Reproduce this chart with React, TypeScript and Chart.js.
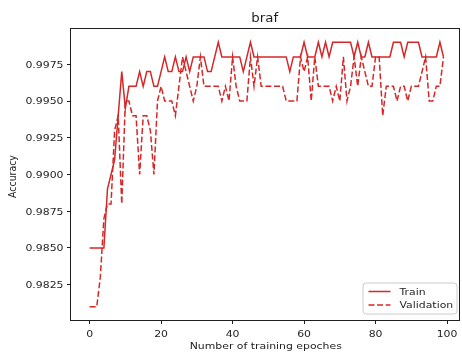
import React, { useEffect, useRef } from "react";
import { Chart, registerables } from "chart.js";

Chart.register(...registerables);

// ---- data ----
const epochs: number[] = Array.from({ length: 100 }, (_, i) => i);

const trainAcc: number[] = [
  0.985, 0.985, 0.985, 0.985, 0.985, 0.989, 0.990, 0.991, 0.994, 0.997,
  0.9945, 0.996, 0.996, 0.996, 0.997, 0.996, 0.997, 0.997, 0.996, 0.996,
  0.997, 0.998, 0.997, 0.997, 0.998, 0.997, 0.997, 0.998, 0.997, 0.998,
  0.998, 0.998, 0.998, 0.997, 0.997, 0.998, 0.999, 0.998, 0.998, 0.998,
  0.998, 0.998, 0.998, 0.997, 0.998, 0.999, 0.998, 0.998, 0.998, 0.998,
  0.998, 0.998, 0.998, 0.998, 0.998, 0.998, 0.997, 0.998, 0.998, 0.998,
  0.999, 0.998, 0.998, 0.998, 0.999, 0.998, 0.999, 0.998, 0.999, 0.999,
  0.999, 0.999, 0.999, 0.999, 0.998, 0.999, 0.998, 0.998, 0.999, 0.998,
  0.998, 0.998, 0.998, 0.998, 0.998, 0.999, 0.999, 0.999, 0.998, 0.999,
  0.999, 0.999, 0.999, 0.998, 0.998, 0.998, 0.998, 0.998, 0.999, 0.998,
];

const valAcc: number[] = [
  0.981, 0.981, 0.981, 0.983, 0.987, 0.988, 0.988, 0.993, 0.994, 0.988,
  0.995, 0.995, 0.994, 0.994, 0.990, 0.994, 0.994, 0.993, 0.990, 0.995,
  0.996, 0.995, 0.995, 0.995, 0.994, 0.996, 0.998, 0.997, 0.996, 0.995,
  0.996, 0.998, 0.996, 0.996, 0.996, 0.996, 0.996, 0.995, 0.996, 0.995,
  0.998, 0.996, 0.995, 0.995, 0.995, 0.998, 0.996, 0.998, 0.996, 0.996,
  0.996, 0.996, 0.996, 0.996, 0.996, 0.995, 0.995, 0.995, 0.995, 0.998,
  0.997, 0.998, 0.995, 0.998, 0.996, 0.996, 0.996, 0.996, 0.995, 0.996,
  0.995, 0.998, 0.995, 0.996, 0.998, 0.996, 0.998, 0.997, 0.996, 0.996,
  0.998, 0.998, 0.994, 0.996, 0.996, 0.996, 0.995, 0.996, 0.996, 0.995,
  0.996, 0.996, 0.996, 0.997, 0.998, 0.995, 0.995, 0.996, 0.996, 0.998,
];

const xTicks: number[] = [0, 20, 40, 60, 80, 100];
const yTicks: number[] = [0.9825, 0.985, 0.9875, 0.99, 0.9925, 0.995, 0.9975];

const chartTitle = "braf";
const xAxisTitle = "Number of training epoches";
const yAxisTitle = "Accuracy";
const seriesNames = ["Train", "Validation"];

// ---- style ----
const W = 462;
const H = 358;
const RED = "#d62728";
const INK = "#1e1e1e";
const FONT_FAMILY = '"DejaVu Sans", sans-serif';
const TEXT_SIZE = 9.4;
const TITLE_SIZE = 11.5;
const STRETCH = 1.16; // glyphs are drawn slightly wider than tall
const DASH = [6, 2.6];

function drawText(
  ctx: CanvasRenderingContext2D,
  text: string,
  x: number,
  y: number,
  align: CanvasTextAlign,
  size: number,
  rotate = false
) {
  ctx.save();
  ctx.translate(x, y);
  ctx.scale(STRETCH, 1);
  if (rotate) ctx.rotate(-Math.PI / 2);
  ctx.font = `${size}px ${FONT_FAMILY}`;
  ctx.textAlign = align;
  ctx.textBaseline = "alphabetic";
  ctx.fillStyle = INK;
  ctx.fillText(text, 0, 0);
  ctx.restore();
}

const framePlugin = {
  id: "frameAndText",
  afterDraw(chart: any) {
    const { ctx, chartArea, scales } = chart;
    const { left, right, top, bottom } = chartArea;

    // axes frame on all four sides
    ctx.save();
    ctx.strokeStyle = INK;
    ctx.lineWidth = 1;
    ctx.strokeRect(
      Math.round(left) - 0.5,
      Math.round(top) - 0.5,
      Math.round(right) - Math.round(left) + 1,
      Math.round(bottom) - Math.round(top) + 1
    );
    ctx.restore();

    // tick labels
    for (const t of scales.y.ticks) {
      const py = scales.y.getPixelForValue(t.value);
      drawText(ctx, t.value.toFixed(4), left - 7.5, py + 3.4, "right", TEXT_SIZE);
    }
    for (const t of scales.x.ticks) {
      const px = scales.x.getPixelForValue(t.value);
      drawText(ctx, String(t.value), px, bottom + 16.7, "center", TEXT_SIZE);
    }

    // titles
    const cx = (left + right) / 2;
    drawText(ctx, chartTitle, cx, 21.5, "center", TITLE_SIZE);
    drawText(ctx, xAxisTitle, cx + 1, bottom + 29, "center", TEXT_SIZE);
    drawText(ctx, yAxisTitle, 15.8, (top + bottom) / 2 + 2, "center", TEXT_SIZE, true);

    // legend, lower right inside the axes
    const boxRight = right - 2;
    const boxBottom = bottom - 6.5;
    const boxW = 94;
    const boxH = 31;
    const bx = boxRight - boxW;
    const by = boxBottom - boxH;
    ctx.save();
    ctx.beginPath();
    (ctx as any).roundRect(bx + 0.5, by + 0.5, boxW, boxH, 3);
    ctx.fillStyle = "rgba(255,255,255,0.85)";
    ctx.fill();
    ctx.strokeStyle = "#cccccc";
    ctx.lineWidth = 1;
    ctx.stroke();
    ctx.restore();

    const rows = [by + 9, by + 22.5];
    seriesNames.forEach((name, i) => {
      const ry = rows[i];
      ctx.save();
      ctx.strokeStyle = RED;
      ctx.lineWidth = 1.5;
      ctx.setLineDash(i === 1 ? DASH : []);
      ctx.beginPath();
      ctx.moveTo(bx + 6, ry);
      ctx.lineTo(bx + 28, ry);
      ctx.stroke();
      ctx.restore();
      drawText(ctx, name, bx + 37, ry + 3.4, "left", TEXT_SIZE);
    });
  },
};

export default function App() {
  const canvasRef = useRef<HTMLCanvasElement | null>(null);

  useEffect(() => {
    const canvas = canvasRef.current;
    if (!canvas) return;

    const tickGrid = {
      display: true,
      drawOnChartArea: false,
      drawTicks: true,
      tickLength: 4,
      color: INK,
      tickColor: INK,
      tickWidth: 1,
    };

    const chart = new Chart(canvas, {
      type: "line",
      data: {
        datasets: [
          {
            label: seriesNames[0],
            data: epochs.map((e, i) => ({ x: e, y: trainAcc[i] })),
            borderColor: RED,
            backgroundColor: RED,
            borderWidth: 1.5,
            pointRadius: 0,
            tension: 0,
            fill: false,
            order: 1,
          },
          {
            label: seriesNames[1],
            data: epochs.map((e, i) => ({ x: e, y: valAcc[i] })),
            borderColor: RED,
            backgroundColor: RED,
            borderWidth: 1.5,
            borderDash: DASH,
            pointRadius: 0,
            tension: 0,
            fill: false,
            order: 0,
          },
        ],
      },
      options: {
        animation: false,
        responsive: false,
        maintainAspectRatio: false,
        devicePixelRatio: 1,
        events: [],
        layout: { padding: { left: 0, right: W - 458.5, top: 29, bottom: 0 } },
        plugins: {
          legend: { display: false },
          title: { display: false },
          tooltip: { enabled: false },
        },
        scales: {
          x: {
            type: "linear",
            min: -5.2,
            max: 103.2,
            afterBuildTicks: (s: any) => {
              s.ticks = xTicks.map((v) => ({ value: v }));
            },
            afterFit: (s: any) => {
              s.height = H - 320;
            },
            ticks: { display: false },
            grid: tickGrid,
            border: { display: false },
          },
          y: {
            type: "linear",
            min: 0.9801,
            max: 0.9999,
            afterBuildTicks: (s: any) => {
              s.ticks = yTicks.map((v) => ({ value: v }));
            },
            afterFit: (s: any) => {
              s.width = 71;
            },
            ticks: { display: false },
            grid: tickGrid,
            border: { display: false },
          },
        },
      },
      plugins: [framePlugin],
    } as any);

    return () => chart.destroy();
  }, []);

  return (
    <div
      style={{
        position: "fixed",
        left: 0,
        top: 0,
        width: W,
        height: H,
        background: "#ffffff",
      }}
    >
      <canvas ref={canvasRef} width={W} height={H} style={{ width: W, height: H, display: "block" }} />
    </div>
  );
}
